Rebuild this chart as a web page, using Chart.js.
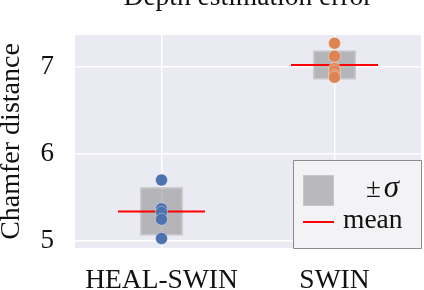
<!DOCTYPE html>
<html><head><meta charset="utf-8">
<script src="https://cdn.jsdelivr.net/npm/chart.js@4/dist/chart.umd.min.js"></script>
<style>html,body{margin:0;padding:0;background:#fff}</style>
</head><body>
<canvas id="c" width="424" height="290"></canvas>
<script>
const titleText = 'Depth estimation error';
const yLabel = 'Chamfer distance';
const categories = ['HEAL-SWIN', 'SWIN'];
const healSwinRuns = [5.70, 5.37, 5.33, 5.25, 5.03];
const swinRuns = [7.27, 7.12, 6.98, 6.95, 6.90, 6.88];
const means = [5.34, 7.02];
const sigmas = [0.28, 0.17];
const yTicks = [5, 6, 7];
const yMin = 4.92, yMax = 7.364;
const legendLabels = ['±σ', 'mean'];

const SERIF = '"Liberation Serif", "Times New Roman", serif';
const boxFill = 'rgba(128,128,128,0.5)';

function zeroPad(s) { s.paddingLeft = 0; s.paddingRight = 0; s.paddingTop = 0; s.paddingBottom = 0; }

const legendPlugin = {
  id: 'insideLegend',
  afterDraw(chart) {
    const ctx = chart.ctx, ca = chart.chartArea;
    const x0 = ca.right - 128, y0 = ca.bottom - 88, w = 128, h = 88;
    ctx.save();
    ctx.fillStyle = '#f3f3f6';
    ctx.strokeStyle = '#8a8a8a';
    ctx.lineWidth = 1;
    ctx.beginPath();
    ctx.rect(x0 + 0.5, y0 + 0.5, w, h);
    ctx.fill(); ctx.stroke();
    ctx.fillStyle = boxFill;
    ctx.fillRect(x0 + 10, y0 + 15, 31, 31);
    ctx.strokeStyle = 'rgba(200,200,200,0.9)';
    ctx.strokeRect(x0 + 10.5, y0 + 15.5, 30, 30);
    ctx.fillStyle = '#111';
    ctx.textBaseline = 'alphabetic';
    ctx.textAlign = 'left';
    ctx.font = '27px ' + SERIF;
    const pm = legendLabels[0].charAt(0);
    const sig = legendLabels[0].slice(1);
    ctx.fillText(pm, x0 + 73, y0 + 37);
    const pmw = ctx.measureText(pm).width;
    ctx.font = 'italic 31px ' + SERIF;
    ctx.fillText(sig, x0 + 73 + pmw + 3, y0 + 37);
    ctx.strokeStyle = '#ff0000';
    ctx.lineWidth = 2;
    ctx.beginPath();
    ctx.moveTo(x0 + 10, y0 + 62);
    ctx.lineTo(x0 + 41, y0 + 62);
    ctx.stroke();
    ctx.font = '27.5px ' + SERIF;
    ctx.fillText(legendLabels[1], x0 + 50, y0 + 68);
    ctx.restore();
  }
};

new Chart(document.getElementById('c'), {
  data: {
    labels: categories,
    datasets: [
      {
        type: 'line', label: 'HEAL-SWIN runs', order: 0,
        data: healSwinRuns.map(v => ({x: categories[0], y: v})),
        showLine: false, pointRadius: 6,
        backgroundColor: '#4c72b0', borderColor: 'rgba(255,255,255,0.35)', borderWidth: 1
      },
      {
        type: 'line', label: 'SWIN runs', order: 0,
        data: swinRuns.map(v => ({x: categories[1], y: v})),
        showLine: false, pointRadius: 6,
        backgroundColor: '#dd8452', borderColor: 'rgba(255,255,255,0.35)', borderWidth: 1
      },
      {
        type: 'line', label: legendLabels[1], order: 1,
        data: means,
        showLine: false, pointStyle: 'line', pointRadius: 43.5,
        borderColor: '#ff0000', borderWidth: 2
      },
      {
        type: 'bar', label: legendLabels[0], order: 2,
        data: means.map((m, i) => [m - sigmas[i], m + sigmas[i]]),
        backgroundColor: boxFill, borderColor: 'rgba(200,200,200,0.9)',
        borderWidth: 1.5, borderSkipped: false,
        barPercentage: 0.25, categoryPercentage: 1
      }
    ]
  },
  options: {
    responsive: false, animation: false, devicePixelRatio: 1,
    layout: {autoPadding: false, padding: {left: 0, right: 3, top: 0, bottom: 0}},
    plugins: {
      legend: {display: false},
      tooltip: {enabled: false},
      title: {
        display: true, text: titleText, color: '#111', fullSize: false,
        font: {family: SERIF, size: 27.5, weight: 'normal', lineHeight: 1.2},
        padding: {top: -19, bottom: 21}
      }
    },
    scales: {
      x: {
        type: 'category', offset: true,
        grid: {display: true, offset: false, color: '#ffffff', lineWidth: 1.5, drawTicks: false},
        border: {display: false},
        ticks: {color: '#111', padding: 16, maxRotation: 0, autoSkip: false, font: {family: SERIF, size: 27.5, lineHeight: 1.2}},
        afterFit(s) { s.height = 42; zeroPad(s); }
      },
      y: {
        type: 'linear', min: yMin, max: yMax,
        grid: {color: '#ffffff', lineWidth: 1.5, drawTicks: false},
        border: {display: false},
        ticks: {color: '#111', padding: 21, font: {family: SERIF, size: 27, lineHeight: 1.2}},
        afterBuildTicks(s) { s.ticks = yTicks.map(v => ({value: v})); },
        title: {
          display: true, text: yLabel, color: '#111',
          font: {family: SERIF, size: 28, lineHeight: 1.2},
          padding: {top: -5.5, bottom: 0}
        },
        afterFit(s) { s.width = 75; zeroPad(s); }
      }
    }
  },
  plugins: [legendPlugin, {
    id: 'bg',
    beforeDraw(chart) {
      const ctx = chart.ctx, ca = chart.chartArea;
      ctx.save();
      ctx.fillStyle = '#ffffff';
      ctx.fillRect(0, 0, chart.width, chart.height);
      ctx.fillStyle = '#eaeaf2';
      ctx.fillRect(ca.left, ca.top, ca.right - ca.left, ca.bottom - ca.top);
      ctx.restore();
    }
  }]
});
</script>
</body></html>
